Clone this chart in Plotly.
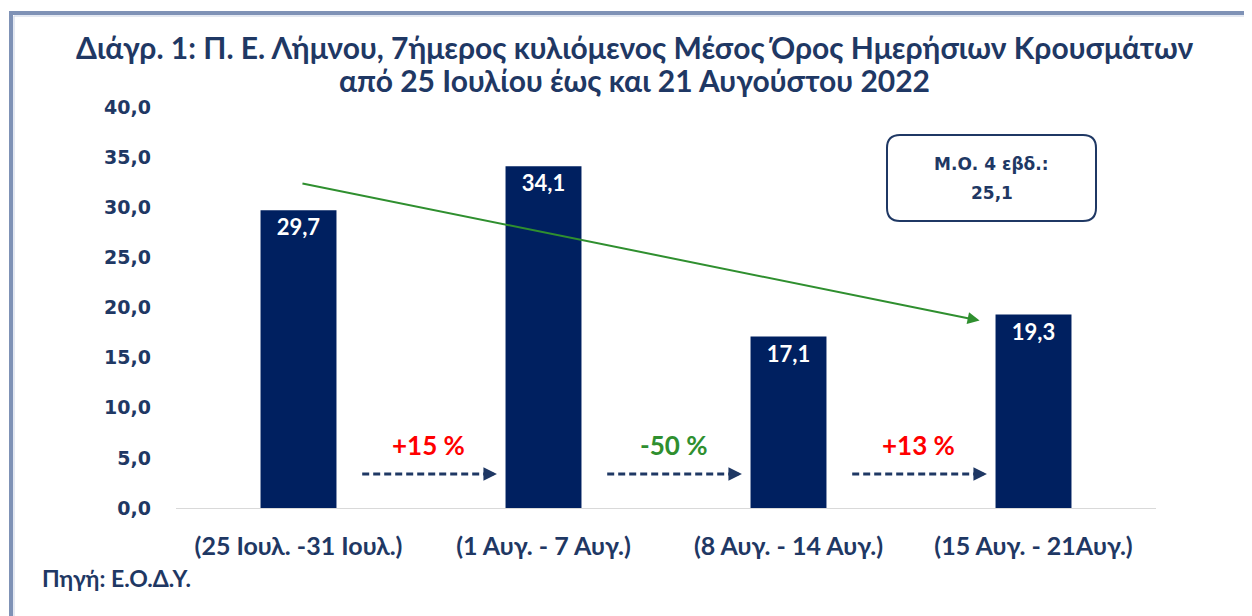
import plotly.graph_objects as go

categories = ["(25 Ιουλ. -31 Ιουλ.)", "(1 Αυγ. - 7 Αυγ.)", "(8 Αυγ. - 14 Αυγ.)", "(15 Αυγ. - 21Αυγ.)"]
values = [29.7, 34.1, 17.1, 19.3]
y_ticks = [0, 5, 10, 15, 20, 25, 30, 35, 40]
title_lines = ["Διάγρ. 1: Π. Ε. Λήμνου, 7ήμερος κυλιόμενος Μέσος Όρος Ημερήσιων Κρουσμάτων",
               "από 25 Ιουλίου έως και 21 Αυγούστου 2022"]
source_text = "Πηγή: Ε.Ο.Δ.Υ."
box_label = "Μ.Ο. 4 εβδ.:"

NAVY = "#002060"
TEXT = "#1F3864"
GREEN = "#2F8F2F"
RED = "#FF0000"
FONT = "Lato"
WIDE = "DejaVu Sans"

mean4 = sum(values) / len(values)
changes = [round((values[i + 1] / values[i] - 1) * 100) for i in range(len(values) - 1)]

fig = go.Figure()
fig.add_trace(go.Bar(
    x=categories, y=values, width=0.31,
    marker=dict(color=NAVY, line=dict(width=0)),
    texttemplate="%{y:.1f}", textposition="inside", insidetextanchor="end",
    textfont=dict(color="white", size=22, family=FONT, weight="bold"),
    textangle=0, cliponaxis=False, hoverinfo="skip",
))

OFF = 8  # page body margin
W, H = 1244, 608
L, T = 168, 99
pw, ph = 980, 401
R = W - L - pw
B = H - T - ph

def px(xs):
    return (xs - OFF - L) / pw

def py(ys):
    return (OFF + T + ph - ys) / ph

shapes = []
annotations = []

# frame border
shapes.append(dict(type="rect", xref="paper", yref="paper",
                   x0=px(11), x1=px(1400), y0=py(800), y1=py(13),
                   line=dict(color="#7F92B6", width=4), layer="below"))
shapes.append(dict(type="rect", xref="paper", yref="paper",
                   x0=px(14), x1=px(1400), y0=py(800), y1=py(16),
                   line=dict(color="#C9D2E4", width=1), layer="below"))

# title lines
for txt, ys in zip(title_lines, [47, 80]):
    annotations.append(dict(x=px(634), y=py(ys), xref="paper", yref="paper", text=txt,
                            showarrow=False, xanchor="center", yanchor="middle",
                            font=dict(color=TEXT, size=30, family=FONT, weight="bold")))

# trend arrow
annotations.append(dict(x=2.78, y=18.7, ax=0.01, ay=32.4, xref="x", yref="y",
                        axref="x", ayref="y", text="", showarrow=True,
                        arrowhead=2, arrowsize=1.2, arrowwidth=2, arrowcolor=GREEN))

# dashed change arrows and percentage labels
for i, ch in enumerate(changes):
    x0 = i + 0.26
    x1 = i + 0.80
    shapes.append(dict(type="line", xref="x", yref="y", x0=x0, x1=x1 - 0.03,
                       y0=3.4, y1=3.4, line=dict(color=TEXT, width=3, dash="7px,4px")))
    annotations.append(dict(x=x1 + 0.01, y=3.4, ax=x1 - 0.04, ay=3.4, xref="x", yref="y",
                            axref="x", ayref="y", text="", showarrow=True,
                            arrowhead=2, arrowsize=0.9, arrowwidth=3, arrowcolor=TEXT))
    color = RED if ch > 0 else GREEN
    label = f"{ch:+d} %"
    annotations.append(dict(x=i + 0.53, y=6.3, xref="x", yref="y", text=label,
                            showarrow=False,
                            font=dict(color=color, size=26, family=FONT, weight="bold")))

# mean box (rounded rectangle)
bx0, bx1, by0, by1 = px(887), px(1096), py(221), py(135)
rx, ry = 13 / pw, 13 / ph
path = (f"M {bx0+rx},{by1} L {bx1-rx},{by1} Q {bx1},{by1} {bx1},{by1-ry} "
        f"L {bx1},{by0+ry} Q {bx1},{by0} {bx1-rx},{by0} L {bx0+rx},{by0} "
        f"Q {bx0},{by0} {bx0},{by0+ry} L {bx0},{by1-ry} Q {bx0},{by1} {bx0+rx},{by1} Z")
shapes.append(dict(type="path", xref="paper", yref="paper", path=path,
                   line=dict(color=TEXT, width=2), fillcolor="white"))
mean_str = f"{mean4:.1f}".replace(".", ",")
for txt, ys in [(box_label, 164), (mean_str, 193)]:
    annotations.append(dict(x=(bx0 + bx1) / 2, y=py(ys), xref="paper", yref="paper",
                            text=txt, showarrow=False, xanchor="center", yanchor="middle",
                            font=dict(color=TEXT, size=17, family=WIDE, weight="bold")))

# source
annotations.append(dict(x=px(40), y=py(578), xref="paper", yref="paper",
                        text=source_text, showarrow=False, xanchor="left", yanchor="middle",
                        font=dict(color=TEXT, size=23, family=FONT, weight="bold")))

fig.update_layout(
    width=W, height=H,
    margin=dict(l=L, r=R, t=T, b=B, autoexpand=False),
    paper_bgcolor="white", plot_bgcolor="white",
    separators=",.",
    showlegend=False,
    xaxis=dict(type="category", showgrid=False, showline=True, linecolor="#D9D9D9",
               linewidth=1, ticks="", ticklabelstandoff=16,
               tickfont=dict(color=TEXT, size=25, family=FONT, weight="bold"),
               range=[-0.5, 3.5]),
    yaxis=dict(range=[0, 40], tickvals=y_ticks, tickformat=".1f", showgrid=False,
               zeroline=False, showline=False, ticks="", ticklabelstandoff=24,
               tickfont=dict(color=TEXT, size=19, family=WIDE, weight="bold")),
    shapes=shapes, annotations=annotations,
)

fig.write_html("out.html")
